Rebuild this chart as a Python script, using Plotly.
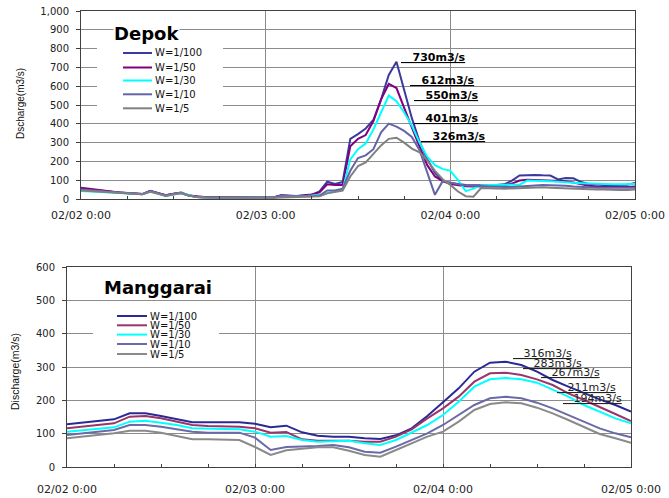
import plotly.graph_objects as go

# ---- data -------------------------------------------------------------
series_names = ["W=1/100", "W=1/50", "W=1/30", "W=1/10", "W=1/5"]
day_tick_hours = [0, 24, 48, 72]
day_tick_labels = ["02/02 0:00", "02/03 0:00", "02/04 0:00", "02/05 0:00"]

# Depok discharge (m3/s), hourly from 02/02 0:00
depok_hours = list(range(0, 73))
depok_w100 = [55, 50, 46, 42, 38, 35, 32, 30, 27, 44,
              33, 20, 28, 35, 20, 12, 10, 10, 9, 9,
              8, 8, 8, 7, 7, 8, 18, 16, 15, 18,
              22, 40, 92, 80, 90, 320, 345, 375, 420, 530,
              660, 730, 585, 430, 305, 212, 140, 95, 85, 78,
              75, 73, 73, 74, 74, 78, 98, 125, 128, 128,
              126, 125, 104, 112, 110, 90, 80, 76, 75, 74,
              74, 76, 85]
depok_w50 = [60, 55, 48, 43, 38, 35, 32, 30, 26, 42,
             32, 20, 27, 33, 18, 12, 10, 9, 9, 8,
             8, 8, 7, 7, 7, 8, 20, 18, 16, 20,
             24, 35, 78, 75, 74, 280, 320, 340, 415, 530,
             612, 590, 490, 380, 278, 180, 120, 95, 80, 72,
             68, 66, 66, 67, 68, 72, 82, 98, 102, 101,
             100, 100, 98, 95, 88, 78, 70, 67, 66, 65,
             64, 64, 66]
depok_w30 = [42, 40, 38, 36, 33, 30, 28, 27, 25, 40,
             30, 15, 25, 33, 20, 10, 8, 8, 8, 8,
             7, 7, 7, 6, 6, 7, 14, 14, 13, 15,
             18, 22, 32, 40, 48, 210, 265, 295, 370, 460,
             550, 520, 460, 390, 300, 225, 180, 160, 150, 100,
             42, 55, 72, 74, 74, 74, 75, 76, 98, 98,
             96, 95, 92, 88, 86, 84, 82, 80, 80, 79,
             79, 80, 80]
depok_w10 = [50, 46, 42, 38, 35, 33, 30, 28, 25, 42,
             30, 18, 26, 32, 18, 10, 8, 8, 8, 7,
             7, 7, 6, 6, 6, 7, 15, 14, 13, 15,
             15, 18, 45, 45, 55, 150, 218, 232, 265, 355,
             401, 385, 362, 330, 260, 140, 22, 95, 85, 78,
             72, 70, 68, 66, 65, 64, 64, 66, 72, 74,
             74, 73, 72, 70, 66, 62, 62, 60, 60, 58,
             58, 57, 60]
depok_w5 = [45, 42, 40, 37, 34, 32, 30, 28, 25, 38,
            28, 18, 24, 30, 18, 10, 8, 7, 7, 7,
            6, 6, 6, 5, 5, 6, 10, 10, 10, 12,
            12, 14, 30, 38, 45, 120, 175, 195, 240, 285,
            320, 326, 300, 268, 248, 205, 150, 105, 75, 40,
            15, 12, 58, 56, 56, 55, 56, 57, 60, 62,
            62, 60, 58, 56, 54, 52, 52, 50, 50, 48,
            48, 48, 50]

# Manggarai discharge (m3/s), every 2 hours from 02/02 0:00
manggarai_hours = list(range(0, 73, 2))
manggarai_w100 = [128, 133, 136, 143, 161, 161, 153, 143, 134, 134, 134, 134, 130,
                  119, 124, 104, 94, 91, 91, 86, 84, 95, 116, 153, 194,
                  236, 286, 313, 316, 306, 286, 261, 241, 221, 203, 186, 166]
manggarai_w50 = [116, 121, 126, 131, 151, 153, 146, 136, 126, 123, 123, 121, 116,
                 103, 105, 83, 79, 79, 79, 76, 76, 91, 113, 146, 176,
                 211, 256, 281, 283, 276, 263, 246, 221, 201, 181, 159, 138]
manggarai_w30 = [106, 111, 114, 119, 136, 139, 133, 126, 116, 114, 114, 113, 106,
                 91, 93, 81, 76, 77, 79, 71, 66, 81, 103, 126, 156,
                 196, 241, 263, 267, 263, 253, 233, 211, 186, 166, 146, 131]
manggarai_w10 = [96, 101, 106, 111, 126, 126, 121, 114, 106, 103, 103, 103, 88,
                 51, 60, 61, 63, 66, 59, 46, 43, 61, 81, 101, 126,
                 156, 186, 206, 211, 206, 193, 176, 156, 136, 116, 101, 89]
manggarai_w5 = [86, 91, 96, 101, 109, 109, 103, 93, 83, 83, 83, 81, 60,
                36, 50, 54, 59, 59, 49, 36, 31, 51, 71, 91, 106,
                136, 171, 189, 194, 191, 178, 161, 141, 119, 99, 86, 73]

depok_series = [depok_w100, depok_w50, depok_w30, depok_w10, depok_w5]
manggarai_series = [manggarai_w100, manggarai_w50, manggarai_w30, manggarai_w10, manggarai_w5]

# ---- styling ----------------------------------------------------------
W, H = 669, 498
FONT = "DejaVu Sans"
depok_colors = ["#3a3a9e", "#800080", "#00ffff", "#6464a8", "#808080"]
manggarai_colors = ["#2a2a96", "#9b3468", "#00ffff", "#6a6aa8", "#8a8a8a"]


def px(x):
    return x / W


def py(y):
    return 1 - y / H


fig = go.Figure()

for name, ys, color in zip(series_names, depok_series, depok_colors):
    fig.add_trace(go.Scatter(x=depok_hours, y=ys, mode="lines", name=name,
                             line=dict(color=color, width=2),
                             xaxis="x", yaxis="y", showlegend=False))
for name, ys, color in zip(series_names, manggarai_series, manggarai_colors):
    fig.add_trace(go.Scatter(x=manggarai_hours, y=ys, mode="lines", name=name,
                             line=dict(color=color, width=2),
                             xaxis="x2", yaxis="y2", showlegend=False))


def x_axis(domain, anchor, standoff):
    return dict(domain=domain, anchor=anchor, range=[0, 72], automargin=False,
                tickmode="array", tickvals=day_tick_hours, ticktext=day_tick_labels,
                ticks="inside", ticklen=3, tickcolor="#404040",
                minor=dict(tickmode="linear", tick0=0, dtick=6, ticks="inside",
                           ticklen=3, tickcolor="#404040", showgrid=False),
                showgrid=True, gridcolor="#8c8c8c", gridwidth=1,
                showline=True, linecolor="#404040", linewidth=1, mirror=True,
                zeroline=False, ticklabelstandoff=standoff,
                tickfont=dict(family=FONT, size=11, color="#222"))


def y_axis(domain, anchor, top, standoff):
    return dict(domain=domain, anchor=anchor, range=[0, top], dtick=100, automargin=False,
                tickformat=",", ticks="outside", ticklen=4, tickcolor="#404040",
                showgrid=True, gridcolor="#8c8c8c", gridwidth=1,
                showline=True, linecolor="#404040", linewidth=1, mirror=True,
                zeroline=False, ticklabelstandoff=standoff,
                tickfont=dict(family=FONT, size=10, color="#222"))


fig.update_layout(
    width=W, height=H,
    margin=dict(l=0, r=0, t=0, b=0),
    paper_bgcolor="white", plot_bgcolor="white",
    xaxis=x_axis([px(81), px(635)], "y", 6),
    yaxis=y_axis([py(199), py(11)], "x", 1000, 5),
    xaxis2=x_axis([px(67), px(631)], "y2", 12),
    yaxis2=y_axis([py(467), py(267)], "x2", 600, 5),
)


def add_key(box, line_x0, line_x1, text_x, rows_y, colors):
    fig.add_shape(type="rect", xref="paper", yref="paper",
                  x0=px(box[0]), x1=px(box[2]), y0=py(box[3]), y1=py(box[1]),
                  fillcolor="white", line_width=0, layer="above")
    for name, color, yy in zip(series_names, colors, rows_y):
        fig.add_shape(type="line", xref="paper", yref="paper",
                      x0=px(line_x0), x1=px(line_x1), y0=py(yy), y1=py(yy),
                      line=dict(color=color, width=2), layer="above")
        fig.add_annotation(xref="paper", yref="paper", x=px(text_x), y=py(yy),
                           text=name, showarrow=False, xanchor="left", yanchor="middle",
                           borderpad=0, font=dict(family=FONT, size=10, color="#111"))


add_key((97, 43, 223, 116), 123, 152, 154, [53, 67.5, 80.5, 94.3, 108.3], depok_colors)
add_key((93, 305, 219, 360), 117, 147, 149, [316, 325.3, 334.6, 344, 354], manggarai_colors)

# chart titles
fig.add_annotation(xref="paper", yref="paper", x=px(146), y=py(33), text="<b>Depok</b>",
                   showarrow=False, bgcolor="white", borderpad=0,
                   xanchor="center", yanchor="middle",
                   font=dict(family=FONT, size=18, color="#000"))
fig.add_annotation(xref="paper", yref="paper", x=px(158), y=py(287), text="<b>Manggarai</b>",
                   showarrow=False, borderpad=0, xanchor="center", yanchor="middle",
                   font=dict(family=FONT, size=18, color="#000"))

# y-axis titles
fig.add_annotation(xref="paper", yref="paper", x=px(21), y=py(104), text="Dscharge(m3/s)",
                   textangle=-90, showarrow=False, xanchor="center", yanchor="middle",
                   font=dict(family="Liberation Sans", size=10, color="#111"))
fig.add_annotation(xref="paper", yref="paper", x=px(15), y=py(372), text="Discharge(m3/s)",
                   textangle=-90, showarrow=False, xanchor="center", yanchor="middle",
                   font=dict(family="Liberation Sans", size=10.5, color="#111"))

# peak discharge labels
LEAD = "\u00a0\u00a0\u00a0"
depok_peaks = [max(s) for s in depok_series]
depok_label_pos = [(50.2, 753), (51.4, 633), (51.8, 553), (51.8, 428), (52.7, 335)]
for peak, (hx, vy) in zip(depok_peaks, depok_label_pos):
    fig.add_annotation(xref="x", yref="y", x=hx, y=vy,
                       text=f"<b><u>{LEAD}{peak}m3/s</u></b>", showarrow=False,
                       xanchor="right", yanchor="middle", borderpad=0,
                       font=dict(family=FONT, size=11, color="#000"))

manggarai_peaks = [max(s) for s in manggarai_series]
manggarai_label_pos = [(64.6, 342), (65.9, 310), (68.2, 283), (70.2, 240), (71.0, 207)]
for peak, (hx, vy) in zip(manggarai_peaks, manggarai_label_pos):
    fig.add_annotation(xref="x2", yref="y2", x=hx, y=vy,
                       text=f"<u>{LEAD}{peak}m3/s</u>", showarrow=False,
                       xanchor="right", yanchor="middle", borderpad=0,
                       font=dict(family=FONT, size=11, color="#222"))

fig.write_html("out.html")
